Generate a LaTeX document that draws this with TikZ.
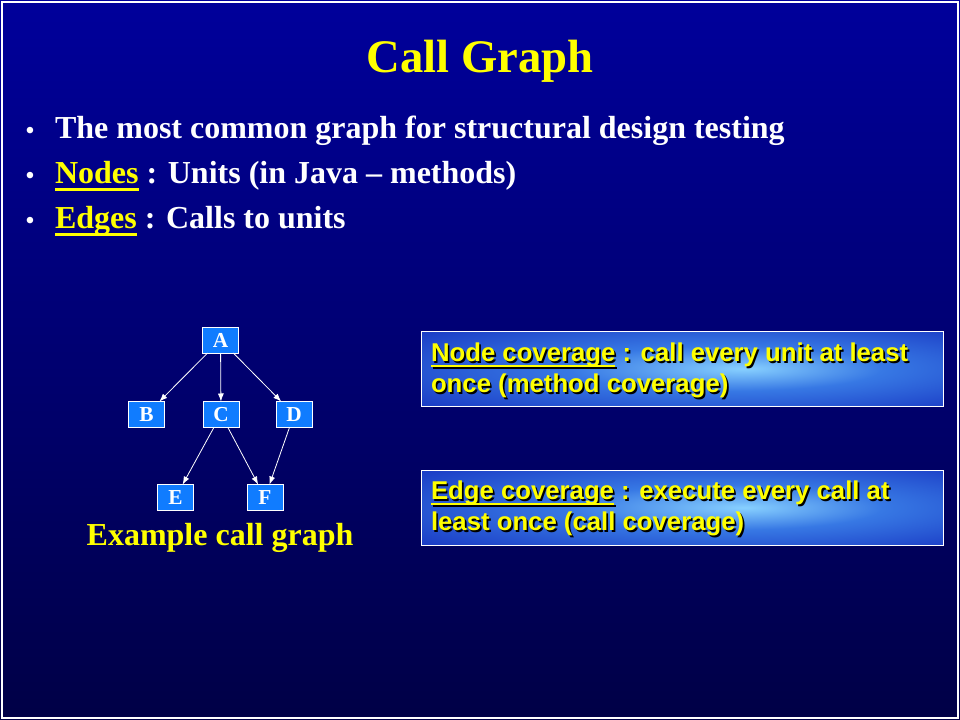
\documentclass[tikz,border=0pt]{standalone}
\usepackage{fontspec}
\setmainfont{Liberation Serif}
\newfontfamily\arialfont{Liberation Sans}
\usepackage{tikz}
\usetikzlibrary{arrows.meta}
\definecolor{slidetop}{RGB}{0,0,155}
\definecolor{slidebottom}{RGB}{0,0,70}
\definecolor{unitblue}{RGB}{16,124,255}
\definecolor{covedge}{RGB}{22,50,192}
\definecolor{covmid}{RGB}{55,120,228}
\definecolor{covlight}{RGB}{135,208,255}
\definecolor{slideyellow}{RGB}{255,255,0}
\pgfdeclareradialshading{covshade}{\pgfpoint{6bp}{0bp}}{%
  color(0bp)=(covlight); color(15bp)=(covmid);
  color(40bp)=(covedge); color(50bp)=(covedge)}
\newcommand{\slideul}[1]{\setbox0\hbox{#1}\rlap{\rule[-0.21em]{\wd0}{0.07em}}\box0\relax}
\newcommand{\covertext}[3]{%
  \node[covtext, text=black, xshift=1.3pt, yshift=-1.3pt] at (#2) {#3};
  \node[covtext, text=slideyellow] (#1) at (#2) {#3};
}
\begin{document}
\begin{tikzpicture}[x=0.75pt, y=-0.75pt,
          every node/.style = {inner sep = 0pt,
                               outer sep = 0pt},
          unit/.style       = {draw      = white,
                               line width = 0.6pt,
                               fill      = unitblue,
                               text      = white,
                               font      = \fontsize{16}{16}\selectfont\bfseries,
                               minimum width  = 27pt,
                               minimum height = 19.5pt},
          call/.style       = {white, line width = 0.6pt,
                               -{Latex[length = 6pt, width = 4.5pt]}},
          coverage/.style   = {draw      = white,
                               line width = 0.7pt,
                               shading   = covshade,
                               minimum width  = 391.5pt,
                               minimum height = 56.25pt},
          covtext/.style    = {anchor = north west,
                               align  = left,
                               font   = \arialfont\fontsize{19.3}{23.25}\selectfont\bfseries},
          bullet/.style     = {text = white,
                               font = \fontsize{18}{18}\selectfont\bfseries},
          point/.style      = {anchor = base west,
                               text   = white,
                               font   = \fontsize{24}{24}\selectfont\bfseries}]
  \useasboundingbox (0,0) rectangle (960,720);
  \shade[top color = slidetop, bottom color = slidebottom] (0,0) rectangle (960,720);
  \draw[white, line width = 1.2pt] (2,2) rectangle (958,718);

  % title and bullets
  \node[anchor = base, text = slideyellow,
        font = \fontsize{35}{35}\selectfont\bfseries] (title) at (480,73) {Call Graph};
  \foreach \y/\name in {133/b1, 178/b2, 223/b3}
    \node[bullet] (\name) at (30,\y) {•};
  \node[point] (line1) at (55,139) {The most common graph for structural design testing};
  \node[point] (line2) at (55,184) {\textcolor{slideyellow}{\slideul{Nodes}} : Units (in Java -- methods)};
  \node[point] (line3) at (55,229) {\textcolor{slideyellow}{\slideul{Edges}} : Calls to units};

  % call graph
  \node[unit] (A) at (220.5,340) {A};
  \node[unit] (B) at (146.5,414.5) {B};
  \node[unit] (C) at (221,414.5) {C};
  \node[unit] (D) at (294,414.5) {D};
  \node[unit] (E) at (175.5,497.5) {E};
  \node[unit] (F) at (265,497.5) {F};
  \draw[call] (A) -- (B);
  \draw[call] (A) -- (C);
  \draw[call] (A) -- (D);
  \draw[call] (C) -- (E);
  \draw[call] (C) -- (F);
  \draw[call] (D) -- (F);
  \node[anchor = base, text = slideyellow, font = \fontsize{24}{24}\selectfont\bfseries]
    (caption) at (220,545) {Example call graph};

  % coverage boxes
  \node[coverage] (nodecov) at (682,368.5) {};
  \node[coverage] (edgecov) at (682,507.5) {};
  \coordinate (nodetxt) at (431,343);
  \coordinate (edgetxt) at (431,481);
  \covertext{nodelabel}{nodetxt}{\slideul{Node coverage} : call every unit at least\\once (method coverage)}
  \covertext{edgelabel}{edgetxt}{\slideul{Edge coverage} : execute every call at\\least once (call coverage)}
\end{tikzpicture}
\end{document}
